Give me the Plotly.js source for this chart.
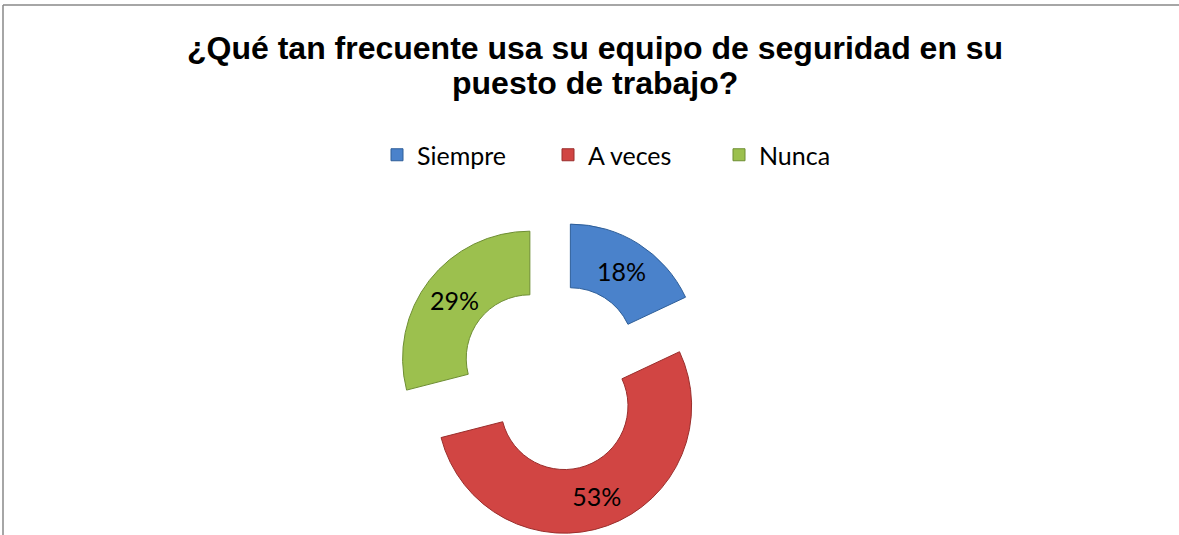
<!DOCTYPE html>
<html>
<head>
<meta charset="utf-8">
<script src="https://cdn.plot.ly/plotly-3.0.1.min.js"></script>
<style>html,body{margin:0;padding:0;background:#fff;}#chart{width:1179px;height:535px;}</style>
</head>
<body>
<div id="chart"></div>
<script>
const categories = ["Siempre", "A veces", "Nunca"];
const values = [18, 53, 29];
const sliceColors = ["#4A82CB", "#D14543", "#9CC04E"];
const edgeColors = ["#2E5E98", "#9A2E2C", "#6E8E33"];
const titleLines = ["¿Qué tan frecuente usa su equipo de seguridad en su", "puesto de trabajo?"];

const W = 1179, H = 535;

const trace = {
  type: "pie",
  labels: categories,
  values: values,
  sort: false,
  direction: "clockwise",
  rotation: 0,
  hole: 0.5,
  pull: [0.24, 0.24, 0.24],
  marker: { colors: sliceColors, line: { color: edgeColors, width: 1 } },
  texttemplate: "%{percent:.0%}",
  textinfo: "percent",
  textposition: "inside",
  insidetextorientation: "horizontal",
  insidetextfont: { family: "Lato, 'Open Sans', sans-serif", size: 25, color: "#000" },
  domain: { x: [395 / W, 713 / W], y: [0, 0.59] },
  showlegend: true
};

const titleFont = { family: "'Liberation Sans', Arial, sans-serif", size: 32, color: "#000", weight: "bold" };

const layout = {
  width: W,
  height: H,
  margin: { l: 0, r: 0, t: 0, b: 0 },
  paper_bgcolor: "#fff",
  annotations: [
    { text: "<b>" + titleLines[0] + "</b>", xref: "paper", yref: "paper", x: 595 / W, y: 1 - 48 / H, xanchor: "center", yanchor: "middle", showarrow: false, font: titleFont },
    { text: "<b>" + titleLines[1] + "</b>", xref: "paper", yref: "paper", x: 595 / W, y: 1 - 83 / H, xanchor: "center", yanchor: "middle", showarrow: false, font: titleFont }
  ],
  legend: {
    orientation: "h",
    x: 377 / W,
    xanchor: "left",
    y: 1 - 155 / H,
    yanchor: "middle",
    entrywidth: 126,
    entrywidthmode: "pixels",
    font: { family: "Lato, 'Open Sans', sans-serif", size: 25, color: "#000" },
    itemwidth: 30,
    traceorder: "normal"
  },
  shapes: [
    { type: "line", xref: "paper", yref: "paper", x0: 3 / W, x1: 1, y0: 1 - 5 / H, y1: 1 - 5 / H, line: { color: "#888", width: 1.5 } },
    { type: "line", xref: "paper", yref: "paper", x0: 3 / W, x1: 3 / W, y0: 0, y1: 1 - 5 / H, line: { color: "#888", width: 1.5 } }
  ]
};

Plotly.newPlot("chart", [trace], layout, { displayModeBar: false, staticPlot: true });
</script>
</body>
</html>
